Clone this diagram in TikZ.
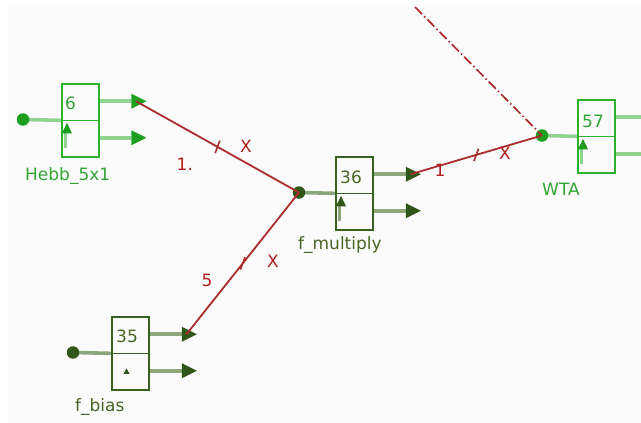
\documentclass[tikz,border=0pt]{standalone}
\usepackage{fontspec}
\setmainfont{DejaVu Sans}
\usetikzlibrary{shapes.geometric}

% palette
\definecolor{hebbgreen}{RGB}{44,178,44}
\definecolor{hebbwire}{RGB}{142,212,142}
\definecolor{hebbtip}{RGB}{30,158,30}
\definecolor{hebbtext}{RGB}{50,165,50}
\definecolor{darkgrn}{RGB}{58,96,30}
\definecolor{darkwire}{RGB}{142,166,124}
\definecolor{darktip}{RGB}{50,86,26}
\definecolor{darktext}{RGB}{72,102,36}
\definecolor{linkred}{RGB}{170,44,44}
\definecolor{linktext}{RGB}{178,30,30}
\definecolor{canvasgray}{RGB}{251,251,251}

\pgfdeclarelayer{back}
\pgfsetlayers{back,main}

\tikzset{
  x=1pt, y=-1pt,
  txt/.style={font=\fontsize{17}{20}\selectfont, inner sep=0pt, anchor=base west},
  fblock/.style={draw, line width=1.7pt, minimum width=37pt, minimum height=73pt,
                 inner sep=0pt, anchor=north west},
  divider/.style={line width=1.7pt},
  port/.style={circle, inner sep=0pt, minimum size=12.5pt},
  outtip/.style={isosceles triangle, isosceles triangle stretches, shape border rotate=0,
                 minimum width=15pt, minimum height=15pt, inner sep=0pt},
  portwire/.style={line width=3.6pt},
  stemwire/.style={line width=2.6pt},
  link/.style={linkred, line width=1.8pt},
  tickmark/.style={linkred, line width=1.6pt},
  linklabel/.style={txt, text=linktext},
}

% small "up arrow" marker in the lower half of a block
\newcommand\upmarker[3]{%
  \draw[#2, stemwire] ([shift={(4.5,12)}]#1.west) -- ([shift={(4.5,28)}]#1.west);
  \fill[#3] ([shift={(1,13)}]#1.west) -- ([shift={(6,2.5)}]#1.west)
            -- ([shift={(11,13)}]#1.west) -- cycle;}

\begin{document}
\begin{tikzpicture}
\useasboundingbox (0,0) rectangle (641,423);
\begin{pgfonlayer}{back}
  \fill[white] (0,0) rectangle (641,423);
  \fill[canvasgray] (8,7) rectangle (641,423);
\end{pgfonlayer}

% ---------------- Hebb_5x1 ----------------
\node[fblock, draw=hebbgreen] (hebb) at (61,83) {};
\draw[hebbgreen, divider] (hebb.west) -- (hebb.east);
\node[txt, text=hebbtext] (hebb-num) at ([shift={(4,26)}]hebb.north west) {6};
\node[txt, text=hebbtext] (hebb-name) at (25,180) {Hebb\_5x1};
\node[port, fill=hebbtip] (hebb-in) at (23,119.5) {};
\node[outtip, fill=hebbtip] (hebb-o1) at (136,101.25) {};
\node[outtip, fill=hebbtip] (hebb-o2) at (136,137.75) {};
\upmarker{hebb}{hebbwire}{hebbtip}
\begin{pgfonlayer}{back}
  \draw[hebbwire, portwire] (hebb-in.center) -- (hebb.west);
  \draw[hebbwire, portwire] (hebb-o1 -| hebb.east) -- (hebb-o1);
  \draw[hebbwire, portwire] (hebb-o2 -| hebb.east) -- (hebb-o2);
\end{pgfonlayer}

% ---------------- f_multiply ----------------
\node[fblock, draw=darkgrn] (mul) at (335,156) {};
\draw[darkgrn, divider] (mul.west) -- (mul.east);
\node[txt, text=darktext] (mul-num) at ([shift={(5,27)}]mul.north west) {36};
\node[txt, text=darktext] (mul-name) at (298,249) {f\_multiply};
\node[port, fill=darktip] (mul-in) at (299,192.5) {};
\node[outtip, fill=darktip] (mul-o1) at (410.5,174.25) {};
\node[outtip, fill=darktip] (mul-o2) at (410.5,210.75) {};
\upmarker{mul}{darkwire}{darktip}
\begin{pgfonlayer}{back}
  \draw[darkwire, portwire] (mul-in.center) -- (mul.west);
  \draw[darkwire, portwire] (mul-o1 -| mul.east) -- (mul-o1);
  \draw[darkwire, portwire] (mul-o2 -| mul.east) -- (mul-o2);
\end{pgfonlayer}

% ---------------- f_bias ----------------
\node[fblock, draw=darkgrn] (bias) at (111,316) {};
\draw[darkgrn, divider] (bias.west) -- (bias.east);
\node[txt, text=darktext] (bias-num) at ([shift={(5,26)}]bias.north west) {35};
\node[txt, text=darktext] (bias-name) at (75,411) {f\_bias};
\node[port, fill=darktip] (bias-in) at (73,352.5) {};
\node[outtip, fill=darktip] (bias-o1) at (186.5,334.25) {};
\node[outtip, fill=darktip] (bias-o2) at (186.5,370.75) {};
\fill[darktip] ([shift={(12.5,20.5)}]bias.west) -- ++(3,-5.5) -- ++(3,5.5) -- cycle;
\begin{pgfonlayer}{back}
  \draw[darkwire, portwire] (bias-in.center) -- (bias.west);
  \draw[darkwire, portwire] (bias-o1 -| bias.east) -- (bias-o1);
  \draw[darkwire, portwire] (bias-o2 -| bias.east) -- (bias-o2);
\end{pgfonlayer}

% ---------------- WTA ----------------
\node[fblock, draw=hebbgreen] (wta) at (577,99) {};
\draw[hebbgreen, divider] (wta.west) -- (wta.east);
\node[txt, text=hebbtext] (wta-num) at ([shift={(5,28)}]wta.north west) {57};
\node[txt, text=hebbtext] (wta-name) at (542,195) {WTA};
\node[port, fill=hebbtip] (wta-in) at (542,135.5) {};
\coordinate (wta-r1) at (641,117.25);
\coordinate (wta-r2) at (641,153.75);
\upmarker{wta}{hebbwire}{hebbtip}
\begin{pgfonlayer}{back}
  \draw[hebbwire, portwire] (wta-in.center) -- (wta.west);
  \draw[hebbwire, portwire] (wta-r1 -| wta.east) -- (wta-r1);
  \draw[hebbwire, portwire] (wta-r2 -| wta.east) -- (wta-r2);
\end{pgfonlayer}

% ---------------- links ----------------
\draw[link] (hebb-o1.center) -- coordinate[pos=0.5] (l1-mid) (mul-in.center);
\draw[link] (bias-o1.center) -- coordinate[pos=0.5] (l2-mid) (mul-in.center);
\draw[link] (mul-o1.center) -- coordinate[pos=0.5] (l3-mid) (wta-in.center);
\coordinate (feed) at (415,7);
\draw[link, line width=1.7pt, dash pattern=on 10pt off 3pt on 1.5pt off 3pt]
  (feed) -- (wta-in.center);

\foreach \m in {l1-mid,l2-mid,l3-mid}
  \draw[tickmark] ([shift={(-2.3,6.2)}]\m) -- ([shift={(2.3,-6.2)}]\m);

\node[linklabel] (l1-w) at (176.5,170) {1.};
\node[linklabel] (l1-x) at (240,152) {X};
\node[linklabel] (l2-w) at (201.5,286) {5};
\node[linklabel] (l2-x) at (267,267) {X};
\node[linklabel] (l3-w) at (434.5,176) {1};
\node[linklabel] (l3-x) at (499,159) {X};
\end{tikzpicture}
\end{document}
